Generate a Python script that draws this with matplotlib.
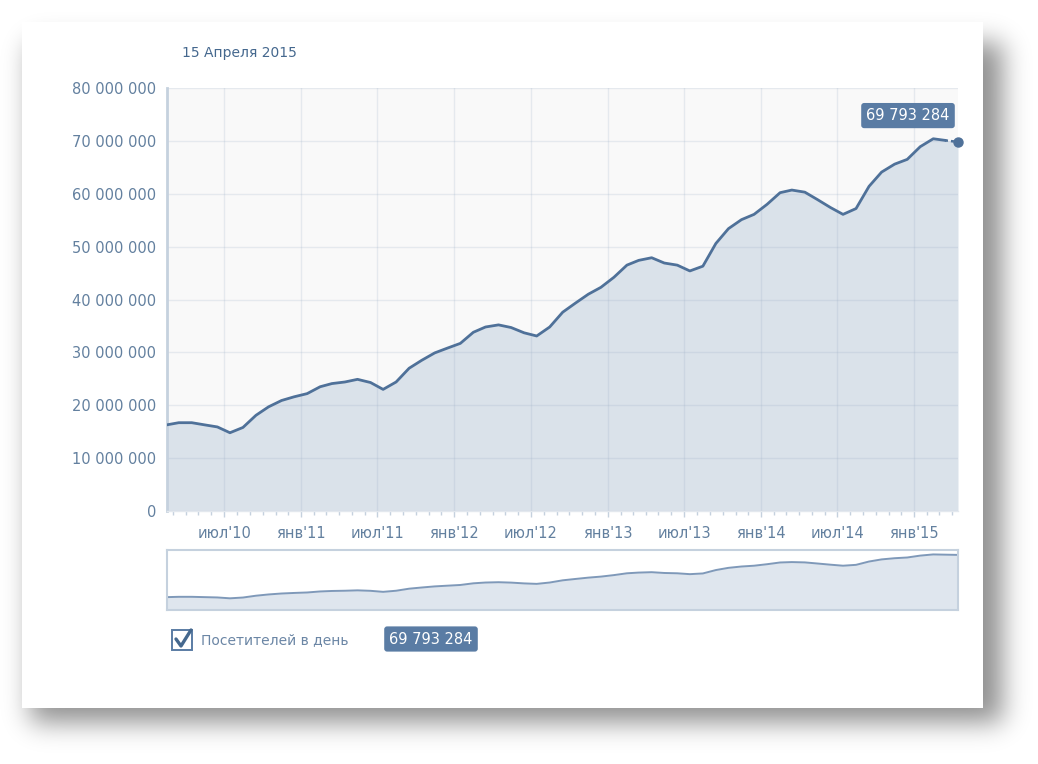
"""Daily visitors chart (VK style) with overview strip and card shadow."""
import math

import numpy as np
import pandas as pd
import matplotlib
matplotlib.use("Agg")
import matplotlib.pyplot as plt
import matplotlib.dates as mdates
from matplotlib.patches import Rectangle
from matplotlib.lines import Line2D
from matplotlib.ticker import FuncFormatter, MultipleLocator

# ---- data -------------------------------------------------------------
# one point per month (15th), Feb 2010 .. Apr 2015, visitors per day in millions
visitors_mln = [
    16.3, 16.7, 16.7, 16.3, 15.9, 14.8, 15.8, 18.1, 19.7, 20.9, 21.6,
    22.2, 23.5, 24.1, 24.4, 24.9, 24.3, 23.0, 24.4, 27.0, 28.5, 29.9, 30.8,
    31.7, 33.8, 34.8, 35.2, 34.7, 33.7, 33.1, 34.8, 37.6, 39.3, 41.0, 42.3,
    44.2, 46.5, 47.4, 47.9, 46.9, 46.5, 45.4, 46.3, 50.6, 53.4, 55.1, 56.1,
    58.0, 60.2, 60.7, 60.3, 58.9, 57.4, 56.1, 57.2, 61.4, 64.1, 65.6, 66.5,
    68.9, 70.4, 70.1, 69.793284,
]
dates = pd.date_range("2010-02-01", "2015-04-01", freq="MS") + pd.Timedelta(days=14)
values = np.array(visitors_mln) * 1e6

tick_dates = pd.to_datetime([
    "2010-07-01", "2011-01-01", "2011-07-01", "2012-01-01", "2012-07-01",
    "2013-01-01", "2013-07-01", "2014-01-01", "2014-07-01", "2015-01-01",
])
tick_labels = ["июл'10", "янв'11", "июл'11", "янв'12", "июл'12",
               "янв'13", "июл'13", "янв'14", "июл'14", "янв'15"]

title = "15 Апреля 2015"
series_name = "Посетителей в день"
last_label = "69 793 284"

# ---- style ------------------------------------------------------------
W, H = 1038, 764
LINE = "#4f7199"
FILL = "#dae2ea"
TEXT = "#45688e"
TICK = "#63809f"
BADGE = "#5a7ca4"
AXIS = "#c5d1de"
GRID = "#96aac3"

plt.rcParams["font.family"] = ["DejaVu Sans"]


def fx(x):
    return x / W


def fy(y):
    return 1 - y / H


fig = plt.figure(figsize=(W / 100, H / 100), dpi=100)
fig.patch.set_facecolor("white")

# card shadow: blurred rectangle, separable erf profile
erf = np.frompyfunc(math.erf, 1, 1)


def soft_step(n, a, b, s):
    t = np.arange(n, dtype=float)
    k = s * math.sqrt(2)
    return 0.5 * (erf((t - a) / k).astype(float) - erf((t - b) / k).astype(float))


shadow = np.zeros((H, W, 4))
shadow[..., 3] = 0.44 * np.outer(soft_step(H, 42, 722, 13), soft_step(W, 30, 1002, 13))
fig.figimage(shadow, xo=0, yo=0, origin="upper", zorder=-3)

# white card
fig.patches.append(Rectangle((fx(22), fy(708)), fx(983) - fx(22), fy(22) - fy(708),
                             transform=fig.transFigure, facecolor="white",
                             edgecolor="none", zorder=-2))

# ---- main chart ---------------------------------------------------------
ax = fig.add_axes([fx(167), fy(511), fx(958) - fx(167), fy(88) - fy(511)])
ax.set_facecolor("#f9f9f9")
ax.fill_between(dates, values, 0, color=FILL, lw=0, zorder=1)
ax.plot(dates[:-1], values[:-1], color=LINE, lw=2.0, zorder=3, solid_joinstyle="round")
ax.plot(dates[-2:], values[-2:], color=LINE, lw=1.8, ls=(0, (1.2, 1.2)), zorder=3)
ax.plot(dates[-1:], values[-1:], "o", color=LINE, ms=6.5, zorder=4, clip_on=False)

ax.set_xlim(dates[0], dates[-1])
ax.set_ylim(0, 80e6)
ax.yaxis.set_major_locator(MultipleLocator(10e6))
ax.yaxis.set_major_formatter(FuncFormatter(lambda v, p: f"{v:,.0f}".replace(",", " ")))
ax.set_xticks(tick_dates)
ax.set_xticklabels(tick_labels)
ax.xaxis.set_minor_locator(mdates.MonthLocator())

ax.set_axisbelow("line")
ax.grid(True, which="major", color=GRID, alpha=0.2, lw=1)
ax.tick_params(axis="y", length=0, pad=8, labelsize=10.5, labelcolor=TICK)
ax.tick_params(axis="x", which="major", length=4, width=1, color=AXIS, pad=7,
               labelsize=10.5, labelcolor=TICK)
ax.tick_params(axis="x", which="minor", length=3, width=1, color=AXIS)

for side in ("top", "right"):
    ax.spines[side].set_visible(False)
ax.spines["left"].set_color(AXIS)
ax.spines["left"].set_linewidth(2)
ax.spines["bottom"].set_color("#e3e8ee")
ax.spines["bottom"].set_linewidth(1)

ax.annotate(last_label, xy=(dates[-1], values[-1]), xytext=(-36, 19),
            textcoords="offset points", ha="center", va="center",
            fontsize=10.5, color="white", annotation_clip=False,
            bbox=dict(boxstyle="round,pad=0.35,rounding_size=0.2", fc=BADGE, ec="none"))

fig.text(fx(182), fy(53), title, ha="left", va="center", fontsize=10, color=TEXT)

# ---- overview strip -----------------------------------------------------
nav = fig.add_axes([fx(167), fy(610), fx(958) - fx(167), fy(550) - fy(610)])
nav.set_facecolor("white")
nav.fill_between(dates, values, 0, color="#dfe6ee", lw=0)
nav.plot(dates, values, color="#7f99b9", lw=1.4)
nav.set_xlim(dates[0], dates[-1])
nav.set_ylim(0, 76e6)
nav.set_xticks([])
nav.set_yticks([])
for s in nav.spines.values():
    s.set_color(AXIS)
    s.set_linewidth(1.5)

# ---- legend row -----------------------------------------------------------
fig.patches.append(Rectangle((fx(172), fy(650)), fx(192) - fx(172), fy(630) - fy(650),
                             transform=fig.transFigure, facecolor="white",
                             edgecolor=BADGE, lw=1.4))
fig.lines.append(Line2D([fx(176), fx(181), fx(191)], [fy(639), fy(646), fy(630)],
                        transform=fig.transFigure, color=TEXT, lw=2.4,
                        solid_capstyle="round", solid_joinstyle="round"))
fig.text(fx(201), fy(640), series_name, ha="left", va="center", fontsize=10, color="#6b86a5")
fig.text(fx(431), fy(639), last_label, ha="center", va="center", fontsize=10.5, color="white",
         bbox=dict(boxstyle="round,pad=0.35,rounding_size=0.2", fc=BADGE, ec="none"))

fig.savefig("out.png", dpi=100)
